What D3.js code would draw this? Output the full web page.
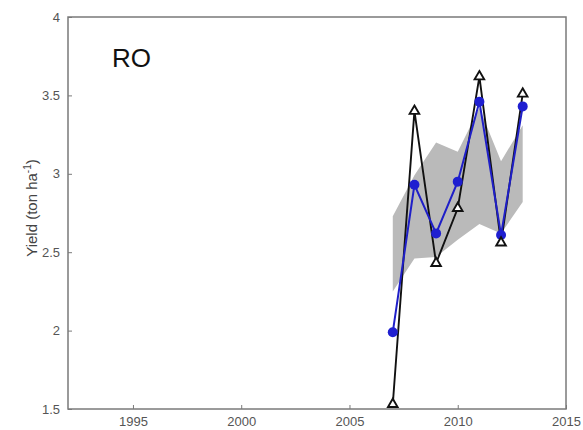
<!DOCTYPE html>
<html>
<head>
<meta charset="utf-8">
<script src="https://cdn.jsdelivr.net/npm/d3@7"></script>
<style>
  html, body { margin: 0; padding: 0; background: #fff; }
  svg { display: block; font-family: "Liberation Sans", Arial, sans-serif; }
</style>
</head>
<body>
<svg id="chart" width="583" height="430"></svg>
<script>
// Yield series for region RO
const years = [2007, 2008, 2009, 2010, 2011, 2012, 2013];
const observed = [1.53, 3.40, 2.43, 2.78, 3.62, 2.56, 3.51];   // black triangles
const simulated = [1.99, 2.93, 2.62, 2.95, 3.46, 2.61, 3.43];  // blue circles
const bandLow = [2.25, 2.46, 2.47, 2.58, 2.68, 2.62, 2.82];
const bandHigh = [2.73, 2.99, 3.20, 3.14, 3.42, 3.08, 3.31];
const xTicks = [1995, 2000, 2005, 2010, 2015];
const yTicks = [1.5, 2, 2.5, 3, 3.5, 4];

const svg = d3.select("#chart");
const plotL = 68, plotR = 566, plotT = 17, plotB = 409;

const x = d3.scaleLinear().domain([1992, 2015]).range([plotL, plotR]);
const y = d3.scaleLinear().domain([1.5, 4]).range([plotB, plotT]);

const rows = years.map((yr, i) => ({
  yr, obs: observed[i], sim: simulated[i], lo: bandLow[i], hi: bandHigh[i]
}));

// Uncertainty band
svg.append("path")
  .datum(rows)
  .attr("fill", "#bababa")
  .attr("d", d3.area().x(d => x(d.yr)).y0(d => y(d.lo)).y1(d => y(d.hi)));

// Observed line
svg.append("path")
  .datum(rows)
  .attr("fill", "none")
  .attr("stroke", "#111")
  .attr("stroke-width", 1.9)
  .attr("d", d3.line().x(d => x(d.yr)).y(d => y(d.obs)));

// Simulated line and markers
svg.append("path")
  .datum(rows)
  .attr("fill", "none")
  .attr("stroke", "#1f1fc8")
  .attr("stroke-width", 2)
  .attr("d", d3.line().x(d => x(d.yr)).y(d => y(d.sim)));

svg.selectAll("circle.sim")
  .data(rows)
  .join("circle")
  .attr("class", "sim")
  .attr("cx", d => x(d.yr))
  .attr("cy", d => y(d.sim))
  .attr("r", 5)
  .attr("fill", "#1f1fd0");

// Observed triangle markers
const tri = d3.symbol().type(d3.symbolTriangle).size(40);
svg.selectAll("path.obs")
  .data(rows)
  .join("path")
  .attr("class", "obs")
  .attr("transform", d => `translate(${x(d.yr)},${y(d.obs)})`)
  .attr("d", tri)
  .attr("fill", "#fff")
  .attr("stroke", "#111")
  .attr("stroke-width", 1.9);

// Axes
const axisColor = "#7a7a7a";
const gx = svg.append("g")
  .attr("transform", `translate(0,${plotB})`)
  .call(d3.axisBottom(x).tickValues(xTicks).tickFormat(d3.format("d")).tickSizeInner(-4).tickSizeOuter(0).tickPadding(8));
const gy = svg.append("g")
  .attr("transform", `translate(${plotL},0)`)
  .call(d3.axisLeft(y).tickValues(yTicks).tickFormat(d => String(d)).tickSizeInner(-4).tickSizeOuter(0).tickPadding(8));

[gx, gy].forEach(g => {
  g.select(".domain").remove();
  g.selectAll("line").attr("stroke", axisColor).attr("stroke-width", 1);
  g.selectAll("text").attr("fill", "#555").style("font-size", "13px")
    .style("font-family", "'Liberation Sans', Arial, sans-serif");
});

// Frame
svg.append("rect")
  .attr("x", plotL).attr("y", plotT)
  .attr("width", plotR - plotL).attr("height", plotB - plotT)
  .attr("fill", "none")
  .attr("stroke", axisColor)
  .attr("stroke-width", 1.5);

// Y-axis title
const yl = svg.append("text")
  .attr("transform", `translate(37,208) rotate(-90)`)
  .attr("text-anchor", "middle")
  .attr("fill", "#444")
  .style("font-size", "15px");
yl.append("tspan").text("Yield (ton ha");
yl.append("tspan").attr("dy", -6).style("font-size", "10px").text("-1");
yl.append("tspan").attr("dy", 6).text(")");

// Panel label
svg.append("text")
  .attr("x", 112).attr("y", 67)
  .attr("fill", "#111")
  .style("font-size", "26px")
  .text("RO");
</script>
</body>
</html>
